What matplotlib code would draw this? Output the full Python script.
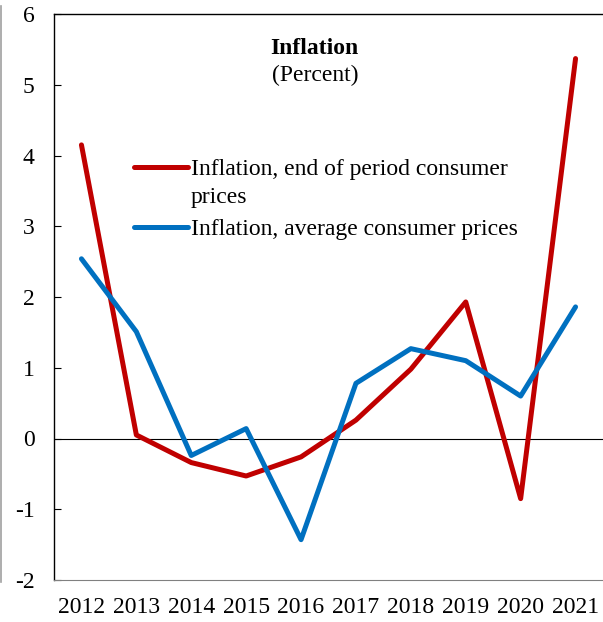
import matplotlib
matplotlib.use('Agg')
import matplotlib.pyplot as plt
from matplotlib.lines import Line2D

plt.rcParams['font.family'] = ['Liberation Serif', 'DejaVu Serif']
plt.rcParams['axes.unicode_minus'] = False

# Data
years = [2012, 2013, 2014, 2015, 2016, 2017, 2018, 2019, 2020, 2021]
end_of_period = [4.15, 0.05, -0.34, -0.53, -0.26, 0.26, 0.98, 1.93, -0.85, 5.37]
average = [2.54, 1.51, -0.24, 0.14, -1.43, 0.78, 1.27, 1.10, 0.60, 1.86]
yticks = [-2, -1, 0, 1, 2, 3, 4, 5, 6]

red = '#C00000'
blue = '#0070C0'
fs = 17

fig = plt.figure(figsize=(6.03, 6.22), dpi=100)
ax = fig.add_axes([54/603, 42/622, 549/603, 566/622])

l1, = ax.plot(years, end_of_period, color=red, lw=3.6, solid_capstyle='round')
l2, = ax.plot(years, average, color=blue, lw=3.6, solid_capstyle='round')
ax.axhline(0, color='black', lw=0.8, zorder=0)

ax.set_xlim(2011.5, 2021.5)
ax.set_ylim(-2, 6)
ax.set_xticks(years)
ax.set_xticklabels([str(y) for y in years])
ax.set_yticks(yticks)
ax.tick_params(axis='x', length=0, pad=12, labelsize=fs)
ax.tick_params(axis='y', direction='in', length=5, pad=14, labelsize=fs)

ax.spines['right'].set_visible(False)
ax.spines['bottom'].set_color('#808080')
for s in ['left', 'top']:
    ax.spines[s].set_linewidth(1.0)

ax.text(0.475, 0.939, 'Inflation', transform=ax.transAxes, ha='center',
        va='center', fontsize=fs, fontweight='bold')
ax.text(0.475, 0.891, '(Percent)', transform=ax.transAxes, ha='center',
        va='center', fontsize=fs)

leg_kw = dict(loc='upper left', frameon=False, fontsize=fs,
              handlelength=2.3, handletextpad=0.1, borderpad=0,
              borderaxespad=0)
blank = Line2D([], [], color='none')
leg1 = ax.legend([l1, blank], ['Inflation, end of period consumer', 'prices'],
                 bbox_to_anchor=(0.146, 0.745), labelspacing=0.27, **leg_kw)
ax.add_artist(leg1)
ax.legend([l2], ['Inflation, average consumer prices'],
          bbox_to_anchor=(0.146, 0.638), **leg_kw)

# thin grey border at the left edge of the picture
fig.add_artist(Line2D([0.002, 0.002], [0.064, 0.99], color='#A0A0A0', lw=1.2))

fig.savefig('out.png', dpi=100)
